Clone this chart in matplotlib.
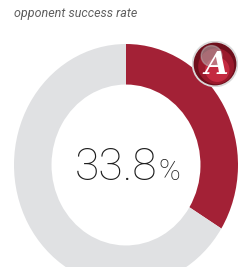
import matplotlib.pyplot as plt
from matplotlib.patches import Circle

# --- data ---
labels = ["opponent success", "other"]
values = [33.8, 66.2]
colors = ["#A32136", "#E0E1E3"]
title = "opponent success rate"
pct_text = "33.8"

W, H = 247, 267
fig = plt.figure(figsize=(W / 100, H / 100), dpi=100)


def px_box(x0, y0, x1, y1):
    # pixel box (top-left origin) -> figure fraction rect
    return [x0 / W, 1 - y1 / H, (x1 - x0) / W, (y1 - y0) / H]


# donut (slightly taller than wide, like the reference)
ax = fig.add_axes(px_box(14, 44, 238, 286))
ax.pie(values, colors=colors, startangle=90, counterclock=False, radius=1,
       wedgeprops=dict(width=0.335, linewidth=0))
ax.set_aspect("auto")
ax.set_xlim(-1, 1)
ax.set_ylim(-1, 1)
ax.axis("off")

# title
fig.text(14 / W, 1 - 17 / H, title, fontsize=9, style="italic",
         family="Roboto", weight="normal", color="#5f5f5f", va="baseline")

# center value
fig.text(157 / W, 1 - 180 / H, pct_text, fontsize=32, family="Roboto",
         weight="light", color="#1e1e1e", ha="right", va="baseline")
fig.text(158 / W, 1 - 180 / H, "%", fontsize=21, family="Roboto",
         weight="light", color="#1e1e1e", ha="left", va="baseline")

# logo badge
lax = fig.add_axes(px_box(192, 41, 238, 87))
lax.set_xlim(-1, 1)
lax.set_ylim(-1, 1)
lax.set_aspect("equal")
lax.axis("off")
lax.add_patch(Circle((0, 0), 0.98, color="#d9d9d9"))
lax.add_patch(Circle((0, 0), 0.9, color="#6e0f1c"))
lax.add_patch(Circle((0.05, -0.1), 0.75, color="#9a1a2c"))
lax.add_patch(Circle((0.1, -0.25), 0.5, color="#c42a40"))
lax.add_patch(Circle((-0.15, 0.35), 0.45, color="#b8b0b2", alpha=0.55))
lax.text(0.05, -0.05, "A", fontsize=22, family="DejaVu Serif", style="italic",
         weight="bold", color="white", ha="center", va="center")

fig.savefig("out.png", dpi=100)
